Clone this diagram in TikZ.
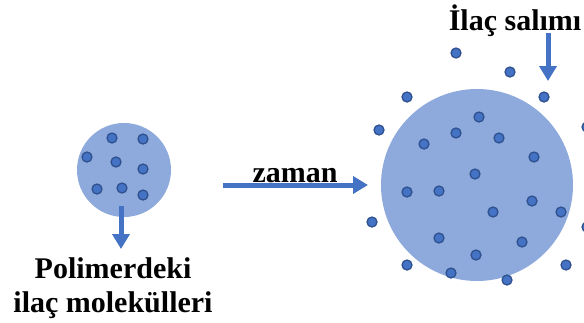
\documentclass[tikz,border=0pt]{standalone}
\usepackage{fontspec}
\setmainfont{Liberation Serif}
\usetikzlibrary{arrows.meta}
\definecolor{polyblue}{RGB}{142,169,219}
\definecolor{drugblue}{RGB}{68,114,196}
\definecolor{drugedge}{RGB}{47,82,143}
\tikzset{
  polymer/.style={circle,fill=polyblue,inner sep=0pt},
  molecule/.style={circle,fill=drugblue,draw=drugedge,line width=1.3pt,
    inner sep=0pt,minimum size=10pt},
  label/.style={font=\bfseries\fontsize{30}{34}\selectfont,inner sep=0pt},
  arr/.style={draw=drugblue,line width=5pt,
    -{Triangle[length=15pt,width=17pt]}}
}
\begin{document}
\begin{tikzpicture}[x=1pt,y=-1pt]
  \useasboundingbox (0,0) rectangle (584,322);

  % small polymer with the loaded drug
  \node[polymer,minimum size=94pt] (small) at (124,170) {};
  \foreach \x/\y [count=\i] in {112/138,143/139,87/157,116/162,143/169,
      97/189,122/188,143/195}
    \node[molecule] (s\i) at (\x,\y) {};

  % swollen polymer, drug released around it
  \node[polymer,minimum size=192pt] (big) at (477,185) {};
  \foreach \x/\y [count=\i] in {456/53,510/72,407/97,544/97,379/130,587/127,
      479/117,456/133,424/144,499/138,534/157,590/171,475/174,407/192,
      439/191,532/201,493/212,561/212,372/222,587/227,439/238,522/242,
      476/255,407/265,566/265,451/273,507/280}
    \node[molecule] (b\i) at (\x,\y) {};

  % texts
  \node[label,align=center,anchor=base] (loaded) at (113,312)
    {Polimerdeki\\ilaç molekülleri};
  \node[label,anchor=base] (time) at (295,182) {zaman};
  \node[label,anchor=base] (release) at (515,30) {İlaç salımı};

  % arrows
  \coordinate (inside) at (121,206);
  \coordinate (insideend) at (121,249);
  \coordinate (timestart) at (223,185);
  \coordinate (timeend) at (368,185);
  \coordinate (relstart) at (548,33);
  \coordinate (relend) at (548,81);
  \begin{scope}
    \draw[arr] (inside) -- (insideend);
    \draw[arr] (timestart) -- (timeend);
    \draw[arr] (relstart) -- (relend);
  \end{scope}
\end{tikzpicture}
\end{document}
